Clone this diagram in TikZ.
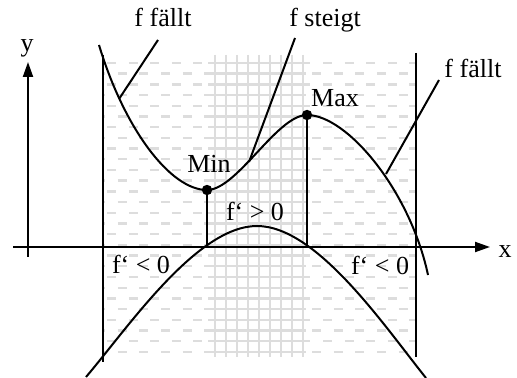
\documentclass[tikz,border=0pt]{standalone}
\usepackage{fontspec}
\setmainfont{Liberation Serif}
\usetikzlibrary{arrows.meta}
\definecolor{hatchgray}{HTML}{DDDDDD}
\begin{document}
\begin{tikzpicture}[x=0.5pt,y=-0.5pt,
  lbl/.style={inner sep=0pt, anchor=base, font=\fontsize{13pt}{15pt}\selectfont},
  ln/.style={line width=1pt, black},
  axisline/.style={line width=1pt, -{Triangle[length=7.5pt,width=5pt]}},
  hatch/.style={draw=hatchgray, line width=1.2pt},
  dot/.style={circle, fill=black, inner sep=0pt, minimum size=5.2pt}]
\useasboundingbox (0,0) rectangle (517,378);
% ---- background pattern
\begin{scope}
  \clip (103,55) rectangle (416,357);
  \foreach \k in {0,...,27}{
    \pgfmathsetmacro\yy{63+10.7*\k}
    \pgfmathsetmacro\xs{85.4+10.8*mod(\k,2)}
    \draw[hatch, dash pattern=on 4.5pt off 6.3pt] (\xs,\yy) -- (420,\yy);
    \draw[hatch] (208,\yy) -- (306,\yy);
  }
  \foreach \i in {0,...,8}{
    \draw[hatch] ({215+11*\i},55) -- ({215+11*\i},357);
  }
\end{scope}
% ---- axes
\coordinate (xs) at (13,247);
\coordinate (xe) at (490,247);
\coordinate (ys) at (28,257);
\coordinate (ye) at (28,62);
\draw[axisline] (xs) -- (xe);
\draw[axisline] (ys) -- (ye);
\node[lbl] (xlab) at (505,257) {x};
\node[lbl] (ylab) at (27,52) {y};
% ---- interval boundaries
\coordinate (lt) at (103,55);
\coordinate (lb) at (103,362);
\coordinate (rt) at (416,53);
\coordinate (rb) at (416,357);
\draw[ln] (lt) -- (lb);
\draw[ln] (rt) -- (rb);
% ---- extrema
\coordinate (fstart) at (99,45);
\coordinate (fend) at (428,275);
\node[dot] (minpt) at (207,190) {};
\node[dot] (maxpt) at (307,115) {};
% ---- f curve
\draw[ln] (fstart) .. controls (124,128) and (170,190) .. (minpt.center)
  .. controls (237,190) and (277,115) .. (maxpt.center)
  .. controls (347,115) and (410,190.4) .. (fend);
% ---- f' curve
\coordinate (dstart) at (86,377);
\coordinate (dpeak) at (257,226);
\coordinate (dend) at (426,378);
\draw[ln] (dstart) .. controls (128.5,327) and (197,226) .. (dpeak)
  .. controls (317,226) and (385,327) .. (dend);
% ---- drops from extrema
\coordinate (minfoot) at (207,247);
\coordinate (maxfoot) at (307,247);
\draw[ln] (minpt.center) -- (minfoot);
\draw[ln] (maxpt.center) -- (maxfoot);
\node[lbl] (minlab) at (209,173) {Min};
\node[lbl] (maxlab) at (335,107) {Max};
% ---- labels with leaders
\node[lbl] (ffl) at (163,27) {f fällt};
\node[lbl] (fst) at (325,27) {f steigt};
\node[lbl] (ffr) at (473,78) {f fällt};
\coordinate (ffla) at (158,40);
\coordinate (fflb) at (119,99);
\coordinate (fsta) at (295,38);
\coordinate (fstb) at (249,162);
\coordinate (ffra) at (439,80);
\coordinate (ffrb) at (386,174);
\draw[ln] (ffla) -- (fflb);
\draw[ln] (fsta) -- (fstb);
\draw[ln] (ffra) -- (ffrb);
% ---- derivative sign labels
\node[lbl] (pos) at (255,221) {f‘ > 0};
\node[lbl] (negl) at (141,273) {f‘ < 0};
\node[lbl] (negr) at (380,274) {f‘ < 0};
\end{tikzpicture}
\end{document}
